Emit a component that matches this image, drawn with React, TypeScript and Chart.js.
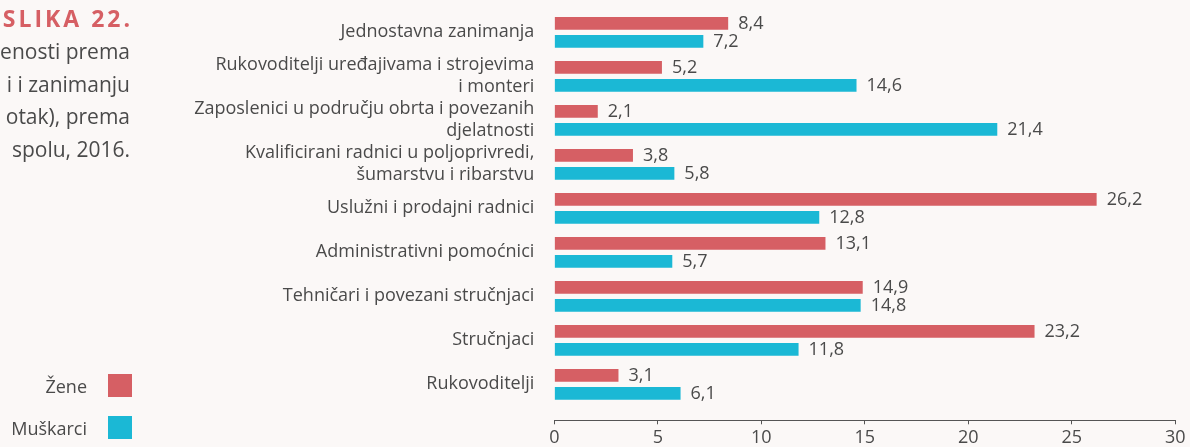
import React, { useEffect, useRef } from "react";
import { Chart, registerables } from "chart.js";

Chart.register(...registerables);

const categories: (string | string[])[] = [
  "Jednostavna zanimanja",
  ["Rukovoditelji uređajivama i strojevima", "i monteri"],
  ["Zaposlenici u području obrta i povezanih", "djelatnosti"],
  ["Kvalificirani radnici u poljoprivredi,", "šumarstvu i ribarstvu"],
  "Uslužni i prodajni radnici",
  "Administrativni pomoćnici",
  "Tehničari i povezani stručnjaci",
  "Stručnjaci",
  "Rukovoditelji",
];

const zene = [8.4, 5.2, 2.1, 3.8, 26.2, 13.1, 14.9, 23.2, 3.1];
const muskarci = [7.2, 14.6, 21.4, 5.8, 12.8, 5.7, 14.8, 11.8, 6.1];

const seriesNames = ["Žene", "Muškarci"];
const xTicks = [0, 5, 10, 15, 20, 25, 30];

const titleLines = ["enosti prema", "i i zanimanju", "otak), prema", "spolu, 2016."];

const RED = "#d65f64";
const CYAN = "#1bb8d5";
const TEXT = "#4a4a4a";
const BG = "#fbf8f7";
const FONT = "'Open Sans', 'Noto Sans', sans-serif";

const valueLabels = {
  id: "valueLabels",
  afterDatasetsDraw(chart: any) {
    const ctx = chart.ctx;
    ctx.save();
    ctx.font = `18px ${FONT}`;
    ctx.fillStyle = TEXT;
    ctx.textAlign = "left";
    ctx.textBaseline = "middle";
    chart.data.datasets.forEach((ds: any, di: number) => {
      const meta = chart.getDatasetMeta(di);
      meta.data.forEach((el: any, i: number) => {
        const v = ds.data[i].x as number;
        ctx.fillText(v.toFixed(1).replace(".", ","), el.x + 10, el.y + 1);
      });
    });
    ctx.restore();
  },
};

export default function App() {
  const ref = useRef<HTMLCanvasElement | null>(null);

  useEffect(() => {
    if (!ref.current) return;
    const chart = new Chart(ref.current, {
      type: "bar",
      data: {
        datasets: [
          {
            label: seriesNames[0],
            data: zene.map((v, i) => ({ x: v, y: i })),
            backgroundColor: RED,
          },
          {
            label: seriesNames[1],
            data: muskarci.map((v, i) => ({ x: v, y: i })),
            backgroundColor: CYAN,
          },
        ],
      },
      options: {
        indexAxis: "y",
        responsive: false,
        animation: false,
        categoryPercentage: 0.818,
        barPercentage: 0.705,
        layout: { padding: { left: 0, right: 14.7, top: 10.3, bottom: 0 } },
        plugins: {
          legend: { display: false },
          tooltip: { enabled: false },
        },
        scales: {
          x: {
            type: "linear",
            min: 0,
            max: 30,
            afterBuildTicks: (s: any) => {
              s.ticks = xTicks.map((v) => ({ value: v }));
            },
            afterFit: (s: any) => {
              s.height = 26.7;
            },
            grid: {
              display: true,
              drawOnChartArea: false,
              drawTicks: true,
              tickLength: 4,
              color: "#555",
            },
            border: { display: true, color: "#555", width: 1 },
            ticks: {
              color: TEXT,
              font: { family: FONT, size: 18 },
              padding: 3,
              maxRotation: 0,
            },
          },
          y: {
            type: "linear",
            offset: false,
            min: -0.5,
            max: 8.818,
            reverse: true,
            afterBuildTicks: (s: any) => {
              s.ticks = categories.map((_, i) => ({ value: i }));
            },
            afterFit: (s: any) => {
              s.width = 554.3;
              s.paddingTop = 0;
              s.paddingBottom = 0;
            },
            grid: { display: false, drawTicks: false, offset: false },
            border: { display: false },
            ticks: {
              autoSkip: false,
              color: TEXT,
              padding: 20,
              font: { family: FONT, size: 18, lineHeight: 1.22 },
              callback: (v: any) => categories[v as number] as any,
            },
          },
        },
      },
      plugins: [valueLabels],
    } as any);
    return () => chart.destroy();
  }, []);

  return (
    <div
      style={{
        position: "fixed",
        left: 0,
        top: 0,
        width: 1190,
        height: 447,
        background: BG,
        overflow: "hidden",
        fontFamily: FONT,
      }}
    >
      <canvas ref={ref} width={1190} height={447} style={{ position: "absolute", left: 0, top: 0 }} />
      <div
        style={{
          position: "absolute",
          right: 1190 - 133,
          top: 2,
          whiteSpace: "nowrap",
          textAlign: "right",
          color: RED,
          fontWeight: 700,
          fontSize: 23,
          letterSpacing: 3,
          lineHeight: "32px",
        }}
      >
        SLIKA 22.
      </div>
      <div
        style={{
          position: "absolute",
          right: 1190 - 130,
          top: 35,
          whiteSpace: "nowrap",
          textAlign: "right",
          color: TEXT,
          fontSize: 21,
          lineHeight: "32.5px",
        }}
      >
        {titleLines.map((l, i) => (
          <div key={i}>{l}</div>
        ))}
      </div>
      {seriesNames.map((name, i) => (
        <div
          key={name}
          style={{
            position: "absolute",
            left: 0,
            top: 374 + i * 42,
            width: 132,
            height: 23,
            display: "flex",
            alignItems: "center",
            justifyContent: "flex-end",
          }}
        >
          <span style={{ color: TEXT, fontSize: 18, marginRight: 21 }}>{name}</span>
          <span style={{ display: "inline-block", width: 24, height: 23, background: i === 0 ? RED : CYAN }} />
        </div>
      ))}
    </div>
  );
}
